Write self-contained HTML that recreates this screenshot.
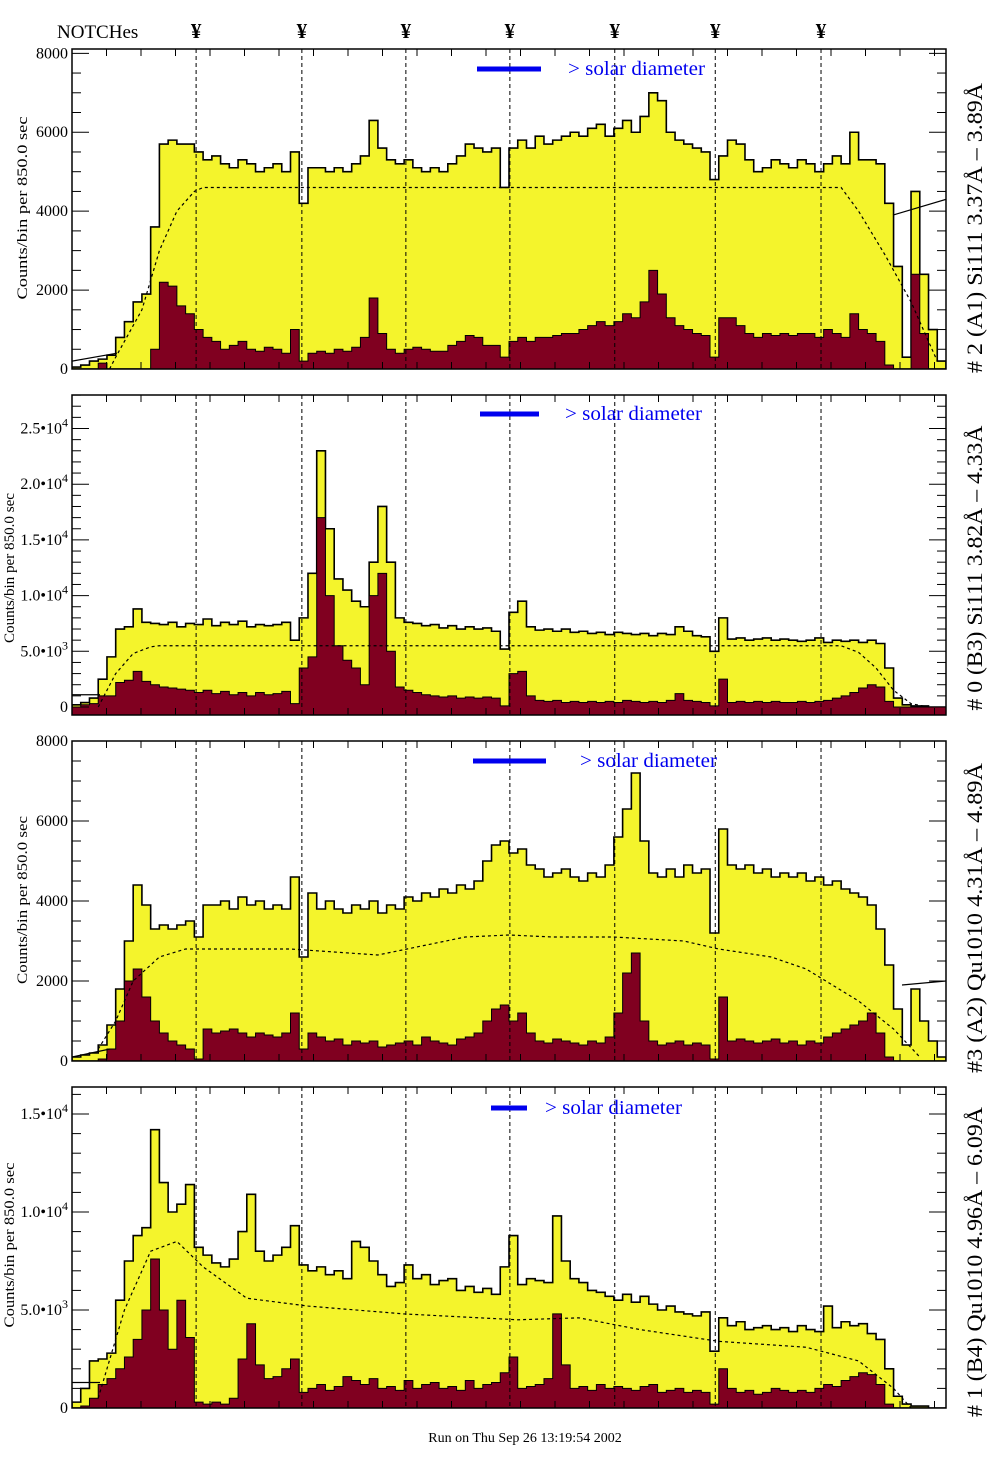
<!DOCTYPE html>
<html><head><meta charset="utf-8"><title>Spectrometer histograms</title>
<style>
html,body{margin:0;padding:0;background:#fff;}
svg{display:block;font-family:"Liberation Serif",serif;}
</style></head>
<body>
<svg id="chart" width="1004" height="1476" viewBox="0 0 1004 1476" xmlns="http://www.w3.org/2000/svg"></svg>
<script>
// ---- data (values in thousands of counts per bin, 100 bins each) ----
const p1Yellow=[0.05,0.1,0.2,0.25,0.35,0.8,1.2,1.7,1.9,3.6,5.7,5.8,5.7,5.7,5.5,5.3,5.4,5.2,5.1,5.3,5.2,5.0,5.1,5.2,5.0,5.5,4.2,5.1,5.1,5.0,5.1,5.0,5.2,5.4,6.3,5.6,5.3,5.2,5.3,5.1,5.0,5.1,5.0,5.2,5.4,5.7,5.6,5.5,5.6,4.6,5.6,5.8,5.6,5.9,5.7,5.8,5.9,6.0,5.9,6.1,6.2,5.9,6.1,6.3,6.0,6.4,7.0,6.8,6.0,5.8,5.7,5.6,5.5,4.8,5.4,5.8,5.7,5.3,5.0,5.1,5.3,5.2,5.1,5.3,5.2,5.0,5.2,5.4,5.2,6.0,5.3,5.3,5.2,4.2,2.6,0.3,4.5,2.4,1.0,0.2];
const p1Maroon=[0,0,0,0.15,0,0,0,0,0,0.5,2.2,2.1,1.6,1.4,1.0,0.8,0.7,0.5,0.6,0.7,0.5,0.45,0.55,0.5,0.4,1.0,0.2,0.4,0.45,0.4,0.5,0.45,0.55,0.8,1.8,0.9,0.5,0.4,0.5,0.55,0.5,0.45,0.45,0.6,0.7,0.85,0.8,0.6,0.6,0.3,0.7,0.8,0.7,0.8,0.8,0.85,0.9,0.9,1.0,1.1,1.2,1.1,1.2,1.4,1.3,1.7,2.5,1.9,1.3,1.1,1.0,0.9,0.85,0.3,1.3,1.3,1.1,0.9,0.8,0.9,0.85,0.9,0.85,0.9,0.9,0.8,1.0,0.9,0.8,1.4,1.0,0.9,0.7,0.1,0,0,2.4,0.9,0,0];
const p2Yellow=[0.2,0.4,0.8,2.5,4.5,7.0,7.2,8.8,7.6,7.5,7.4,7.6,7.2,7.5,7.4,7.9,7.3,7.6,7.4,7.7,7.2,7.4,7.3,7.4,7.6,6.0,8.0,12.0,23.0,16.0,11.5,10.5,9.5,9.0,13.0,18.0,13.0,8.0,7.6,7.5,7.3,7.4,7.1,7.3,7.0,7.2,7.0,7.1,6.8,5.2,8.5,9.5,7.2,6.9,7.0,6.8,7.0,6.7,6.8,6.6,6.7,6.5,6.7,6.6,6.5,6.6,6.4,6.6,6.5,7.2,6.8,6.4,6.3,5.0,8.0,6.1,6.2,6.0,6.1,6.2,6.0,6.1,6.0,5.9,6.0,6.2,5.8,6.0,5.9,6.0,5.8,6.0,5.7,3.5,0.8,0.2,0.1,0.1,0,0];
const p2Maroon=[0,0.2,0.3,1.0,1.0,2.2,2.4,3.2,2.3,2.0,1.8,1.7,1.6,1.5,1.3,1.5,1.2,1.4,1.1,1.3,1.0,1.3,1.1,1.2,1.4,0.3,3.5,4.5,17.0,10.0,5.5,4.2,3.5,2.0,10.0,12.0,5.0,1.8,1.5,1.3,1.1,1.0,0.9,1.0,0.8,0.9,0.8,0.9,0.8,0.1,3.0,3.2,1.0,0.6,0.5,0.6,0.4,0.5,0.4,0.5,0.4,0.5,0.4,0.6,0.5,0.4,0.5,0.4,0.6,1.2,0.6,0.5,0.4,0.1,2.5,0.4,0.5,0.4,0.5,0.4,0.5,0.4,0.4,0.5,0.4,0.5,0.6,0.8,1.0,1.3,1.7,2.0,1.8,0.5,0,0,0,0,0,0];
const p3Yellow=[0.1,0.15,0.2,0.4,0.9,1.8,3.0,4.4,3.9,3.3,3.4,3.3,3.4,3.5,3.1,3.9,3.9,4.0,3.8,4.1,3.9,4.0,3.8,3.9,3.8,4.6,2.6,4.2,3.8,4.0,3.8,3.7,3.9,3.8,4.0,3.7,3.9,3.8,4.1,4.0,4.2,4.1,4.3,4.2,4.4,4.3,4.5,5.0,5.4,5.5,5.2,5.3,4.9,4.8,4.6,4.7,4.8,4.6,4.5,4.7,4.6,4.9,5.6,6.3,7.2,5.5,4.7,4.6,4.8,4.6,4.9,4.7,4.8,3.2,5.8,4.9,4.8,4.9,4.7,4.8,4.6,4.7,4.6,4.7,4.5,4.6,4.4,4.5,4.3,4.2,4.1,3.9,3.3,2.4,1.3,0.4,1.8,1.0,0.5,0.1];
const p3Maroon=[0,0,0,0.05,0.3,1.0,2.0,2.3,1.6,1.0,0.7,0.5,0.4,0.3,0.05,0.8,0.7,0.75,0.8,0.7,0.6,0.7,0.65,0.6,0.7,1.2,0.3,0.7,0.6,0.5,0.55,0.4,0.5,0.45,0.5,0.35,0.4,0.45,0.5,0.4,0.6,0.5,0.45,0.4,0.55,0.6,0.7,1.0,1.3,1.4,1.0,1.2,0.7,0.5,0.45,0.55,0.5,0.45,0.4,0.5,0.45,0.6,1.2,2.2,2.7,1.0,0.5,0.4,0.45,0.5,0.4,0.45,0.4,0.05,1.6,0.5,0.55,0.5,0.45,0.5,0.55,0.45,0.5,0.4,0.5,0.45,0.6,0.7,0.8,0.9,1.0,1.2,0.7,0.1,0,0,0,0,0,0];
const p4Yellow=[0.3,1.0,2.4,2.5,2.8,5.5,7.5,8.8,9.2,14.2,11.5,10.0,10.4,11.4,8.2,7.8,7.4,7.2,7.6,9.0,10.9,8.0,7.5,7.8,8.2,9.3,7.3,7.0,7.2,6.8,7.0,6.6,8.5,8.2,7.5,6.8,6.2,6.4,7.3,6.6,6.8,6.3,6.5,6.6,6.0,6.2,5.9,6.1,5.8,7.2,8.8,6.3,6.6,6.5,6.4,9.8,7.5,6.6,6.4,6.0,5.9,5.7,5.5,5.8,5.4,5.7,5.3,5.0,5.2,4.9,4.8,4.7,4.9,2.9,4.6,4.2,4.4,4.0,4.1,4.2,4.0,4.1,3.9,4.2,4.0,3.9,5.2,4.1,4.4,4.2,4.3,3.8,3.5,2.0,0.6,0.2,0.1,0.1,0,0];
const p4Maroon=[0,0.1,0.5,1.2,1.5,2.0,2.6,3.5,5.0,7.6,5.0,3.0,5.5,3.6,0.3,0.2,0.3,0.2,0.5,2.5,4.3,2.2,1.5,1.6,2.0,2.5,0.8,1.0,1.2,0.9,1.1,1.6,1.4,1.2,1.5,1.0,1.1,0.9,1.4,1.0,1.2,1.3,1.0,1.1,0.9,1.4,1.0,1.2,1.3,1.8,2.6,1.0,1.1,1.2,1.5,4.8,2.2,1.0,1.1,0.9,1.2,1.0,1.1,1.0,0.9,1.1,1.2,0.8,0.9,1.0,0.8,0.9,0.8,0.2,2.0,1.0,0.8,0.9,0.7,0.8,1.0,0.9,0.8,0.9,0.8,1.0,1.2,1.1,1.4,1.6,1.8,1.7,1.2,0.2,0,0,0,0,0,0];
// efficiency (dotted) curves: bin coordinate and value (thousands)
const p1CurveBins=[4.3,5,8,10,12,14,15,88,90,93,96,99];
const p1CurveVals=[0,0.3,1.5,3.0,4.0,4.5,4.6,4.6,4.0,2.9,1.7,0.2];
const p2CurveBins=[3,5,7,9,10,88,90,92,94,96,98];
const p2CurveVals=[0,3.0,4.8,5.4,5.5,5.5,4.9,3.5,1.5,0.3,0];
const p3CurveBins=[3,5,7,10,13,25,35,45,50,55,62,70,74,80,84,90,94,97];
const p3CurveVals=[0.3,1.0,2.0,2.6,2.8,2.8,2.65,3.1,3.15,3.1,3.1,3.0,2.8,2.6,2.3,1.5,0.8,0.1];
const p4CurveBins=[3,4,6,9,12,15,20,27,38,51,58,65,74,84,90,94,96];
const p4CurveVals=[0.5,2.0,5.0,8.0,8.5,7.2,5.6,5.2,4.8,4.5,4.6,4.0,3.4,3.1,2.4,1.0,0];
const notchBins=[14.2,26.3,38.2,50.1,62.1,73.6,85.7];
const p1Ticks=[0,2000,4000,6000,8000];
const p2Ticks=[0,5000,10000,15000,20000,25000];
const p3Ticks=[0,2000,4000,6000,8000];
const p4Ticks=[0,5000,10000,15000];
const p1TickLabels=["0","2000","4000","6000","8000"];
const p2TickLabels=[["0",""],["5.0•10","3"],["1.0•10","4"],["1.5•10","4"],["2.0•10","4"],["2.5•10","4"]];
const p3TickLabels=["0","2000","4000","6000","8000"];
const p4TickLabels=[["0",""],["5.0•10","3"],["1.0•10","4"],["1.5•10","4"]];
const panelTitles=["# 2 (A1) Si111  3.37Å – 3.89Å","# 0 (B3) Si111  3.82Å – 4.33Å","#3 (A2) Qu1010  4.31Å – 4.89Å","# 1 (B4) Qu1010 4.96Å – 6.09Å"];

// ---- layout ----
const NS="http://www.w3.org/2000/svg";
const svg=document.getElementById('chart');
const X0=72,X1=946,NB=100,BW=(X1-X0)/NB;
function xb(b){return X0+b*BW;}
function mk(tag,attrs,parent){const e=document.createElementNS(NS,tag);for(const k in attrs)e.setAttribute(k,attrs[k]);(parent||svg).appendChild(e);return e;}

const panels=[
 {top:49,bot:369,zero:369,ppk:39.46,yel:p1Yellow,mar:p1Maroon,cb:p1CurveBins,cv:p1CurveVals,ticks:p1Ticks,labels:p1TickLabels,minor:500,
  lineL:[[72,0.2],[117,0.4]],lineR:[[893,3.9],[946,4.3]],leg:[477,541,69,568],title:panelTitles[0],tlen:290,tx:22,tcy:208,tl:183,rcy:228},
 {top:395,bot:715,zero:707,ppk:11.14,yel:p2Yellow,mar:p2Maroon,cb:p2CurveBins,cv:p2CurveVals,ticks:p2Ticks,labels:p2TickLabels,minor:1000,
  lineL:[[72,1.1],[100,1.1]],lineR:null,leg:[480,539,414,565],title:panelTitles[1],tlen:285,tx:9,tcy:568,tl:150,rcy:568},
 {top:741,bot:1061,zero:1061,ppk:40,yel:p3Yellow,mar:p3Maroon,cb:p3CurveBins,cv:p3CurveVals,ticks:p3Ticks,labels:p3TickLabels,minor:500,
  lineL:[[72,0.1],[110,0.3]],lineR:[[902,1.9],[946,2.0]],leg:[473,546,761,580],title:panelTitles[2],tlen:310,tx:22,tcy:900,tl:168,rcy:918},
 {top:1087,bot:1408,zero:1408,ppk:19.6,yel:p4Yellow,mar:p4Maroon,cb:p4CurveBins,cv:p4CurveVals,ticks:p4Ticks,labels:p4TickLabels,minor:1000,
  lineL:[[72,1.3],[100,1.3]],lineR:null,leg:[491,527,1108,545],title:panelTitles[3],tlen:310,tx:9,tcy:1245,tl:165,rcy:1262}
];

// header
const hdr=mk('text',{x:57,y:38,'font-size':19});
hdr.textContent='NOTCHes';


notchBins.forEach(function(b){
  const t=mk('text',{x:xb(b),y:38,'font-size':21,'font-weight':'bold','text-anchor':'middle'});
  t.textContent='¥';
  
  
});

panels.forEach(function(p,pi){
  const g=mk('g',{});
  
  
  const yv=function(k){return p.zero-k*p.ppk;};
  const cid='clip'+pi;
  const cp=mk('clipPath',{id:cid},g);
  mk('rect',{x:X0,y:p.top,width:X1-X0,height:p.bot-p.top},cp);
  const inner=mk('g',{'clip-path':'url(#'+cid+')'},g);
  function stepPath(arr){
    let d='M'+X0+','+p.bot;
    arr.forEach(function(v,i){const y=Math.min(yv(v),p.bot);d+=' L'+xb(i).toFixed(2)+','+y.toFixed(2)+' L'+xb(i+1).toFixed(2)+','+y.toFixed(2);});
    return d+' L'+X1+','+p.bot+' Z';
  }
  const yel=mk('path',{d:stepPath(p.yel),fill:'#f4f42c',stroke:'#000','stroke-width':1.6},inner);
  
  
  const mar=mk('path',{d:stepPath(p.mar),fill:'#800020',stroke:'#000','stroke-width':1},inner);
  
  
  let cd='';
  p.cb.forEach(function(b,i){cd+=(i?' L':'M')+xb(b).toFixed(2)+','+yv(p.cv[i]).toFixed(2);});
  const cur=mk('path',{d:cd,fill:'none',stroke:'#000','stroke-width':1.2,'stroke-dasharray':'3,3'},inner);
  
  
  [p.lineL,p.lineR].forEach(function(l){
    if(!l)return;
    const ln=mk('line',{x1:l[0][0],y1:yv(l[0][1]),x2:l[1][0],y2:yv(l[1][1]),stroke:'#000','stroke-width':1.2},inner);
    
    
  });
  notchBins.forEach(function(b){
    const ln=mk('line',{x1:xb(b),y1:p.top,x2:xb(b),y2:p.bot,stroke:'#000','stroke-width':1,'stroke-dasharray':'4,3'},inner);
    
    
  });
  const fr=mk('rect',{x:X0,y:p.top,width:X1-X0,height:p.bot-p.top,fill:'none',stroke:'#000','stroke-width':1.5},g);
  
  
  for(let x=X0+34.5;x<X1;x+=34.5){
    const t1=mk('line',{x1:x,y1:p.top,x2:x,y2:p.top+7,stroke:'#000','stroke-width':1},g);
    
    
    const t2=mk('line',{x1:x,y1:p.bot,x2:x,y2:p.bot-7,stroke:'#000','stroke-width':1},g);
    
    
  }
  const maxV=(p.zero-p.top)/p.ppk*1000;
  for(let v=0;v<=maxV;v+=p.minor){
    const y=yv(v/1000);
    const major=p.ticks.indexOf(v)>=0;
    const L=major?17:9;
    const a=mk('line',{x1:X0,y1:y,x2:X0+L,y2:y,stroke:'#000','stroke-width':1},g);
    
    
    const b=mk('line',{x1:X1,y1:y,x2:X1-L,y2:y,stroke:'#000','stroke-width':1},g);
    
    
  }
  p.ticks.forEach(function(v,i){
    const y=yv(v/1000)+5;
    const lab=p.labels[i];
    const t=mk('text',{x:68,y:y,'font-size':16,'text-anchor':'end'},g);
    
    
    if(typeof lab==='string'){t.textContent=lab;}
    else{
      const s1=mk('tspan',{},t);s1.textContent=lab[0];
      if(lab[1]){const s2=mk('tspan',{dy:-7,'font-size':12},t);s2.textContent=lab[1];const s3=mk('tspan',{dy:7,'font-size':12},t);s3.textContent='\u200b';}
    }
  });
  const yt=mk('text',{x:0,y:0,'font-size':15,'text-anchor':'middle',transform:'translate('+(p.tx+5)+','+p.tcy+') rotate(-90)',textLength:p.tl,lengthAdjust:'spacingAndGlyphs'},g);
  yt.textContent='Counts/bin per     850.0 sec';
  
  
  const lb=mk('rect',{x:p.leg[0],y:p.leg[2]-2.5,width:p.leg[1]-p.leg[0],height:5,fill:'#0000ee'},g);
  
  
  const lt=mk('text',{x:p.leg[3],y:p.leg[2]+6,'font-size':20,fill:'#0000ee',textLength:137,lengthAdjust:'spacingAndGlyphs'},g);
  lt.textContent='> solar diameter';
  
  
  const rt=mk('text',{x:0,y:0,'font-size':22,'text-anchor':'middle',transform:'translate(982,'+p.rcy+') rotate(-90)',textLength:p.tlen,lengthAdjust:'spacingAndGlyphs'},g);
  rt.textContent=p.title;
  
  
});

const ft=mk('text',{x:525,y:1442,'font-size':14,'text-anchor':'middle'});
ft.textContent='Run on Thu Sep 26 13:19:54 2002';


</script>
</body></html>
